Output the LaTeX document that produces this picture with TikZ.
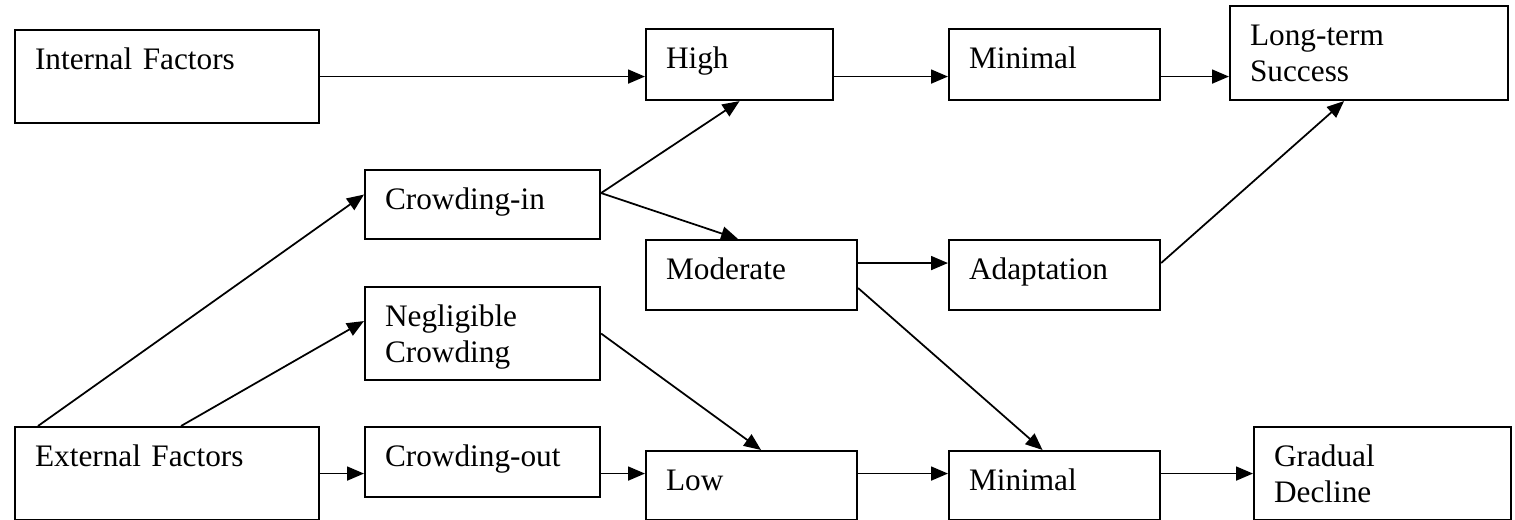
\documentclass[tikz,border=0pt]{standalone}
\usepackage{fontspec}
\setmainfont{Liberation Serif}
\usetikzlibrary{arrows.meta}

\begin{document}
\begin{tikzpicture}[
    stage/.style={draw, line width=1.2pt, anchor=north west, align=left,
        inner xsep=0.4cm, inner ysep=0.37cm, text height=0.41cm,
        font=\fontsize{17.8}{21}\selectfont},
    flow/.style={-{Triangle[length=0.34cm, width=0.28cm]}, line width=1pt}
]
    \useasboundingbox (0, 0) rectangle (30.3, -10.4);

    % first column
    \node[stage, text width=5.28cm, text depth=0.71cm] (internal) at (0.28, -0.58) {Internal Factors};
    \node[stage, text width=5.28cm, text depth=0.71cm] (external) at (0.28, -8.52) {External Factors};

    % crowding effects
    \node[stage, text width=3.9cm, text depth=0.23cm] (crowdin) at (7.28, -3.38) {Crowding-in};
    \node[stage, text width=3.9cm, text depth=0.71cm] (negligible) at (7.28, -5.72) {Negligible\\Crowding};
    \node[stage, text width=3.9cm, text depth=0.25cm] (crowdout) at (7.28, -8.52) {Crowding-out};

    % levels
    \node[stage, text width=2.94cm, text depth=0.27cm] (high) at (12.9, -0.56) {High};
    \node[stage, text width=3.42cm, text depth=0.25cm] (moderate) at (12.9, -4.78) {Moderate};
    \node[stage, text width=3.42cm, text depth=0.23cm] (low) at (12.9, -9.0) {Low};

    % responses
    \node[stage, text width=3.42cm, text depth=0.27cm] (minimaltop) at (18.96, -0.56) {Minimal};
    \node[stage, text width=3.42cm, text depth=0.25cm] (adaptation) at (18.96, -4.78) {Adaptation};
    \node[stage, text width=3.42cm, text depth=0.23cm] (minimalbot) at (18.96, -9.0) {Minimal};

    % outcomes
    \node[stage, text width=4.76cm, text depth=0.73cm] (success) at (24.58, -0.1) {Long-term\\Success};
    \node[stage, text width=4.34cm, text depth=0.71cm] (decline) at (25.06, -8.52) {Gradual\\Decline};

    % top row
    \draw[flow] (internal.east) -- (internal.east -| high.west);
    \draw[flow] (high.east |- internal.east) -- (minimaltop.west |- internal.east);
    \draw[flow] (minimaltop.east |- internal.east) -- (success.west |- internal.east);

    % bottom row
    \draw[flow] (external.east) -- (external.east -| crowdout.west);
    \draw[flow] (crowdout.east |- external.east) -- (low.west |- external.east);
    \draw[flow] (low.east |- external.east) -- (minimalbot.west |- external.east);
    \draw[flow] (minimalbot.east |- external.east) -- (decline.west |- external.east);

    % diagonals
    \draw[flow] ([xshift=0.48cm]external.north west) -- ([yshift=0.2cm]crowdin.west);
    \draw[flow] ([xshift=0.28cm]external.north) -- ([yshift=0.25cm]negligible.west);
    \draw[flow] ([yshift=0.23cm]crowdin.east) -- (high.south);
    \draw[flow] ([yshift=0.23cm]crowdin.east) -- ([xshift=-0.27cm]moderate.north);
    \draw[flow] (negligible.east) -- ([xshift=0.19cm]low.north);
    \draw[flow] ([yshift=0.24cm]moderate.east) -- ([yshift=0.24cm]adaptation.west);
    \draw[flow] ([yshift=-0.26cm]moderate.east) -- ([xshift=-0.24cm]minimalbot.north);
    \draw[flow] ([yshift=0.24cm]adaptation.east) -- ([xshift=-0.5cm]success.south);
\end{tikzpicture}
\end{document}
